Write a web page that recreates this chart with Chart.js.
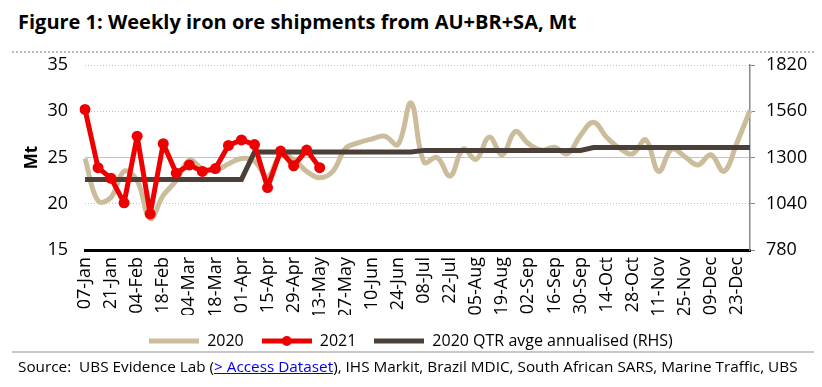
<!DOCTYPE html>
<html>
<head>
<meta charset="utf-8">
<script src="https://cdn.jsdelivr.net/npm/chart.js@4.4.0/dist/chart.umd.min.js"></script>
<style>
body { margin: 0; width: 822px; height: 387px; background: #fff; overflow: hidden; position: relative; font-family: "Open Sans", sans-serif; }
#title { position: absolute; left: 18px; top: 8px; font-weight: bold; font-size: 20px; color: #000; white-space: nowrap; }
#topRule { position: absolute; left: 12px; right: 8px; top: 51px; border-top: 2px dotted #b8bcb8; }
#wrap { position: absolute; left: 0; top: 0; }
#bottomRule { position: absolute; left: 12px; right: 8px; top: 351px; border-top: 2px solid #c8c8c8; }
#source { position: absolute; left: 18px; top: 356px; font-size: 15.3px; color: #000; white-space: nowrap; }
#source a { color: #0000ee; text-decoration: underline; }
</style>
</head>
<body>
<div id="title">Figure 1: Weekly iron ore shipments from AU+BR+SA, Mt</div>
<div id="topRule"></div>
<div id="wrap"><canvas id="chart" width="822" height="359"></canvas></div>
<div id="bottomRule"></div>
<div id="source">Source:&nbsp; UBS Evidence Lab (<a>&gt; Access Dataset</a>), IHS Markit, Brazil MDIC, South African SARS, Marine Traffic, UBS</div>

<script>
// weekly categories
const weeks = ['07-Jan','14-Jan','21-Jan','28-Jan','04-Feb','11-Feb','18-Feb','25-Feb',
  '04-Mar','11-Mar','18-Mar','25-Mar','01-Apr','08-Apr','15-Apr','22-Apr','29-Apr',
  '06-May','13-May','20-May','27-May','03-Jun','10-Jun','17-Jun','24-Jun','01-Jul',
  '08-Jul','15-Jul','22-Jul','29-Jul','05-Aug','12-Aug','19-Aug','26-Aug','02-Sep',
  '09-Sep','16-Sep','23-Sep','30-Sep','07-Oct','14-Oct','21-Oct','28-Oct','04-Nov',
  '11-Nov','18-Nov','25-Nov','02-Dec','09-Dec','16-Dec','23-Dec','30-Dec'];

// 2020 weekly shipments, Mt
const ship2020 = [24.9, 20.3, 20.7, 23.5, 22.5, 18.4, 20.9, 22.5, 24.7, 23.8, 23.6, 24.3,
  24.9, 24.6, 22.9, 25.2, 24.8, 23.5, 22.8, 23.5, 26.0, 26.6, 27.0, 27.3, 26.4, 30.9,
  24.5, 25.0, 23.0, 25.9, 24.8, 27.2, 25.3, 27.8, 26.5, 25.8, 26.1, 25.4, 27.4, 28.8,
  27.2, 26.0, 25.4, 26.9, 23.5, 25.9, 25.1, 24.2, 25.3, 23.5, 26.6, 30.1];

// 2021 weekly shipments, Mt
const ship2021 = [30.2, 23.9, 22.75, 20.1, 27.3, 18.9, 26.5, 23.3, 24.2, 23.5, 23.8,
  26.3, 26.9, 26.4, 21.75, 25.7, 24.1, 25.8, 23.9];

// 2020 quarterly average, annualised (RHS), and the week each quarter starts
const qtrAvg = [1177, 1331, 1340, 1356];
const qtrStart = [0, 13, 26, 39];

// tick labels
const leftTicks = [15, 20, 25, 30, 35];
const rightTicks = [780, 1040, 1300, 1560, 1820];

const qtrLine = weeks.map(function (w, i) {
  let q = 0;
  for (let k = 0; k < qtrStart.length; k++) {
    if (i >= qtrStart[k]) q = k;
  }
  return qtrAvg[q];
});

const TAN = '#cbbc9c';
const RED = '#ee0000';
const DARK = '#4a4039';

// little legend samples: a line, with a dot for 2021
function legendIcon(color, width, dot) {
  const c = document.createElement('canvas');
  c.width = 50;
  c.height = 12;
  const g = c.getContext('2d');
  g.strokeStyle = color;
  g.lineWidth = width;
  g.beginPath();
  g.moveTo(0, 6);
  g.lineTo(50, 6);
  g.stroke();
  if (dot) {
    g.fillStyle = color;
    g.beginPath();
    g.arc(25, 6, 5, 0, Math.PI * 2);
    g.fill();
  }
  return c;
}
const icons = [legendIcon(TAN, 5, false), legendIcon(RED, 5, true), legendIcon(DARK, 5, false)];

const font = { family: '"Open Sans", sans-serif', size: 16 };
const tickFont = { family: '"Open Sans", sans-serif', size: 18 };

new Chart(document.getElementById('chart'), {
  type: 'line',
  data: {
    labels: weeks,
    datasets: [
      {
        label: '2020',
        data: ship2020,
        yAxisID: 'y',
        borderColor: TAN,
        borderWidth: 5,
        tension: 0.4,
        pointRadius: 0,
        order: 3
      },
      {
        label: '2021',
        data: ship2021,
        yAxisID: 'y',
        borderColor: RED,
        backgroundColor: RED,
        borderWidth: 5,
        borderJoinStyle: 'round',
        tension: 0,
        pointRadius: 5.5,
        pointBorderWidth: 0,
        pointBackgroundColor: RED,
        order: 1
      },
      {
        label: '2020 QTR avge annualised (RHS)',
        data: qtrLine,
        yAxisID: 'y1',
        borderColor: DARK,
        borderWidth: 5,
        tension: 0,
        pointRadius: 0,
        order: 2
      }
    ]
  },
  options: {
    responsive: false,
    animation: false,
    devicePixelRatio: 1,
    layout: { padding: { top: 65, left: 0, right: 0, bottom: 0 } },
    plugins: {
      tooltip: { enabled: false },
      legend: {
        position: 'bottom',
        labels: {
          color: '#000',
          font: font,
          padding: 18,
          usePointStyle: true,
          pointStyleWidth: 50,
          boxHeight: 12,
          sort: function (a, b) { return a.datasetIndex - b.datasetIndex; },
          generateLabels: function (chart) {
            const items = Chart.defaults.plugins.legend.labels.generateLabels(chart);
            items.forEach(function (it) { it.pointStyle = icons[it.datasetIndex]; });
            return items;
          }
        }
      }
    },
    scales: {
      x: {
        grid: { display: false, drawTicks: false },
        border: { display: true, color: '#000', width: 3 },
        ticks: {
          color: '#000',
          font: tickFont,
          autoSkip: false,
          maxRotation: 90,
          minRotation: 90,
          padding: 7,
          callback: function (val, i) {
            return i % 2 === 0 ? this.getLabelForValue(val) : '';
          }
        },
        afterFit: function (scale) { scale.height = 65; }
      },
      y: {
        position: 'left',
        min: leftTicks[0],
        max: leftTicks[leftTicks.length - 1],
        afterBuildTicks: function (scale) {
          scale.ticks = leftTicks.map(function (v) { return { value: v }; });
        },
        grid: {
          drawTicks: false,
          lineWidth: 1,
          color: function (ctx) { return ctx.tick && ctx.tick.value === 25 ? '#c4c4c4' : '#c0c0c0'; }
        },
        border: {
          display: false,
          dash: function (ctx) { return ctx.tick && ctx.tick.value === 25 ? [] : [1, 2]; }
        },
        ticks: { color: '#000', font: tickFont, padding: 17 },
        title: {
          display: true,
          text: 'Mt',
          color: '#000',
          font: { family: '"Open Sans", sans-serif', size: 17, weight: 'bold' },
          padding: { top: 22, bottom: 0 }
        },
        afterFit: function (scale) { scale.width = 85; }
      },
      y1: {
        position: 'right',
        min: rightTicks[0],
        max: rightTicks[rightTicks.length - 1],
        afterBuildTicks: function (scale) {
          scale.ticks = rightTicks.map(function (v) { return { value: v }; });
        },
        grid: { drawOnChartArea: false, drawTicks: true, tickLength: 5, color: '#888' },
        border: { display: true, color: '#888', width: 1.5 },
        ticks: {
          color: '#000',
          font: tickFont,
          padding: 11,
          callback: function (v) { return String(v); }
        },
        afterFit: function (scale) { scale.width = 72; }
      }
    }
  }
});
</script>
</body>
</html>
